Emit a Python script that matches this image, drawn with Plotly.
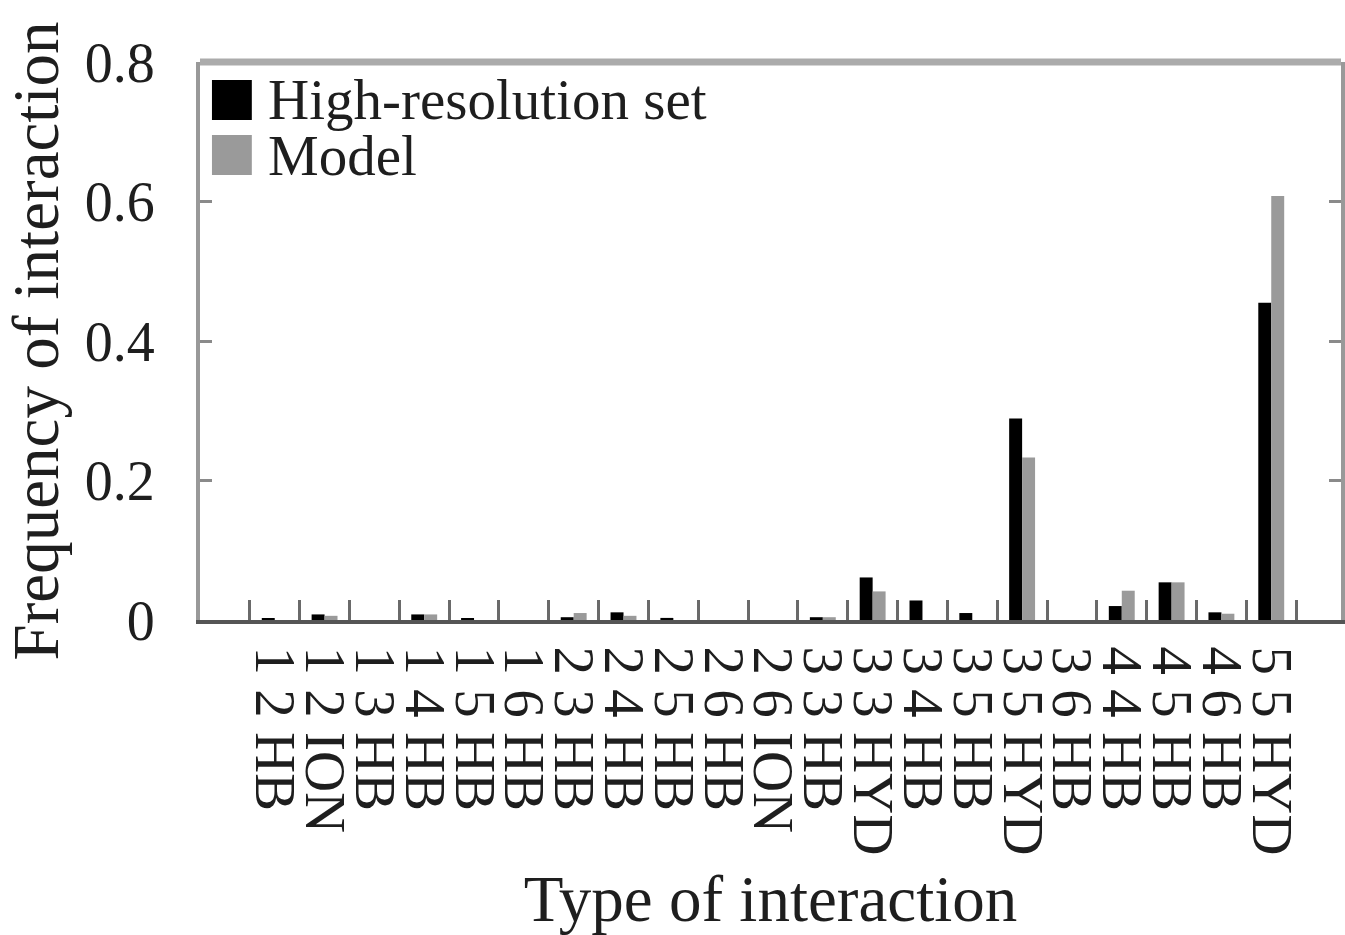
import plotly.graph_objects as go

categories = ["1 2 HB", "1 2 ION", "1 3 HB", "1 4 HB", "1 5 HB", "1 6 HB",
              "2 3 HB", "2 4 HB", "2 5 HB", "2 6 HB", "2 6 ION", "3 3 HB",
              "3 3 HYD", "3 4 HB", "3 5 HB", "3 5 HYD", "3 6 HB", "4 4 HB",
              "4 5 HB", "4 6 HB", "5 5 HYD"]
high_res = [0.002, 0.008, 0.0, 0.008, 0.002, 0.0, 0.004, 0.011, 0.003, 0.0, 0.0,
            0.004, 0.061, 0.028, 0.010, 0.289, 0.0, 0.020, 0.054, 0.011, 0.455]
model = [0.0, 0.006, 0.0, 0.008, 0.0, 0.0, 0.010, 0.006, 0.0, 0.0, 0.0,
         0.004, 0.041, 0.0, 0.0, 0.233, 0.0, 0.042, 0.054, 0.009, 0.608]
series_names = ["High-resolution set", "Model"]
series_colors = ["#000000", "#9a9a9a"]
y_ticks = [0, 0.2, 0.4, 0.6, 0.8]
y_tick_text = ["0", "0.2", "0.4", "0.6", "0.8"]

FONT = "Liberation Serif"
TXT = "#1e1e1e"

fig = go.Figure()
for name, vals, col in zip(series_names, [high_res, model], series_colors):
    fig.add_trace(go.Bar(x=categories, y=vals, name=name, marker_color=col,
                         marker_line_width=0, showlegend=False))

W, H = 1345, 935
ml, mr, mt, mb = 200, 0, 62, 315
pw, ph = W - ml - mr, H - mt - mb


def px(x):
    return (x - ml) / pw


def py(y):
    return (H - mb - y) / ph


shapes = [
    dict(type="line", xref="paper", yref="paper", x0=0, x1=1, y0=1, y1=1,
         line=dict(color="#ababab", width=7)),
]
annotations = []
sw_tops = [80, 135]
for i, (name, col) in enumerate(zip(series_names, series_colors)):
    t = sw_tops[i]
    shapes.append(dict(type="rect", xref="paper", yref="paper",
                       x0=px(212), x1=px(252), y0=py(t + 40), y1=py(t),
                       fillcolor=col, line=dict(width=0)))
    annotations.append(dict(text=name, xref="paper", yref="paper",
                            x=px(266), y=py(t + 20), xanchor="left", yanchor="middle",
                            showarrow=False, font=dict(family=FONT, size=57, color=TXT)))

fig.update_layout(
    width=W, height=H,
    margin=dict(l=ml, r=mr, t=mt, b=mb),
    paper_bgcolor="white", plot_bgcolor="white",
    barmode="group", bargap=0.48, bargroupgap=0,
    font=dict(family=FONT, color=TXT),
    shapes=shapes, annotations=annotations,
    xaxis=dict(
        type="category", range=[-1.5, 21.4],
        tickmode="linear", tick0=0, dtick=1,
        tickangle=90, tickfont=dict(family=FONT, size=57, color=TXT),
        ticks="inside", tickson="boundaries", ticklen=20, tickwidth=3, tickcolor="#6a6a6a",
        ticklabelstandoff=11,
        showline=True, linecolor="#555555", linewidth=4,
        showgrid=False, zeroline=False,
        title=dict(text="Type of interaction", font=dict(family=FONT, size=65, color=TXT), standoff=22),
    ),
    yaxis=dict(
        range=[0, 0.8], tickvals=y_ticks, ticktext=y_tick_text,
        tickfont=dict(family=FONT, size=56, color=TXT),
        ticks="inside", ticklen=12, tickwidth=3, tickcolor="#8a8a8a",
        ticklabelstandoff=30,
        showline=True, linecolor="#999999", linewidth=4, mirror="ticks",
        showgrid=False, zeroline=False,
        title=dict(text="Frequency of interaction", font=dict(family=FONT, size=65, color=TXT), standoff=20),
    ),
)

fig.write_html("out.html")
